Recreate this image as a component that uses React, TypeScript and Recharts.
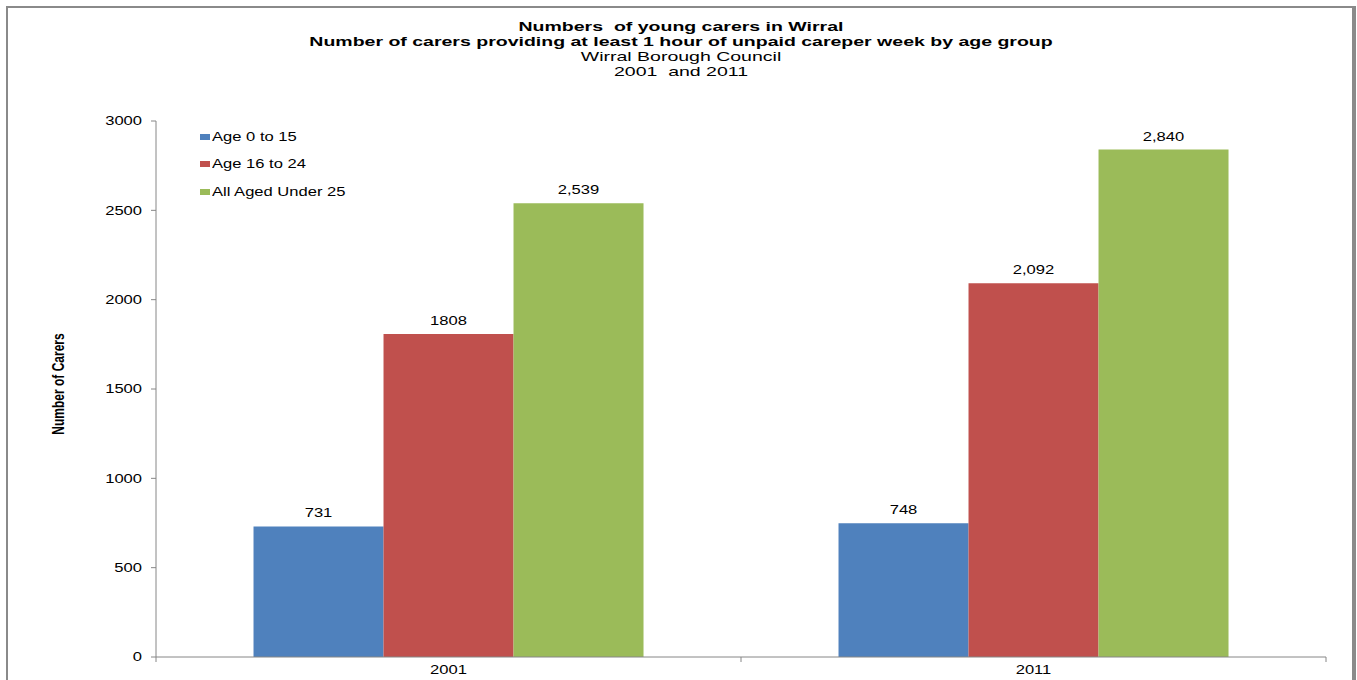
import { BarChart, Bar, XAxis, YAxis, Legend, LabelList } from 'recharts';

const years = ['2001', '2011'];
const age0to15 = [731, 748];
const age16to24 = [1808, 2092];
const allUnder25 = [2539, 2840];
// labels as printed on the original (mixed formatting)
const age0to15Labels = ['731', '748'];
const age16to24Labels = ['1808', '2,092'];
const allUnder25Labels = ['2,539', '2,840'];
const yTicks = [0, 500, 1000, 1500, 2000, 2500, 3000];
const categoryEdges = [0, 1, 2];

const titleLines = [
  'Numbers  of young carers in Wirral',
  'Number of carers providing at least 1 hour of unpaid careper week by age group',
];
const subtitleLines = ['Wirral Borough Council', '2001  and 2011'];

const FONT = '"Liberation Sans", Arial, sans-serif';
// the original picture is stretched sideways, so text is widened to match
const STRETCH = 1.38;

const data = years.map((year, i) => ({
  year,
  a: age0to15[i],
  b: age16to24[i],
  c: allUnder25[i],
  aLabel: age0to15Labels[i],
  bLabel: age16to24Labels[i],
  cLabel: allUnder25Labels[i],
  pos: i + 0.5,
}));

const YTick = ({ x, y, payload }: any) => (
  <g transform={`translate(${x},${y})`}>
    <text
      transform={`scale(${STRETCH},1)`}
      textAnchor="end"
      dy="0.36em"
      fontFamily={FONT}
      fontSize={12}
      fill="#000"
    >
      {payload.value}
    </text>
  </g>
);

const XTick = ({ x, y, payload }: any) => (
  <g transform={`translate(${x},${y})`}>
    <text
      transform={`scale(${STRETCH},1)`}
      textAnchor="middle"
      dy="0.55em"
      fontFamily={FONT}
      fontSize={12}
      fill="#000"
    >
      {payload.value}
    </text>
  </g>
);

// category boundary ticks: a short line under the axis, no label
const EdgeTick = ({ x, y }: any) => (
  <line x1={x} x2={x} y1={y - 1} y2={y + 4} stroke="#868686" />
);

const BarLabel = (props: any) => {
  const { x, y, width, value } = props;
  return (
    <g transform={`translate(${x + width / 2},${y - 9})`}>
      <text
        transform={`scale(${STRETCH},1)`}
        textAnchor="middle"
        fontFamily={FONT}
        fontSize={12}
        fill="#000"
      >
        {value}
      </text>
    </g>
  );
};

const renderLegend = (props: any) => {
  const { payload } = props;
  return (
    <div style={{ fontFamily: FONT, fontSize: 12, color: '#000' }}>
      {payload.map((entry: any) => (
        <div key={entry.value} style={{ display: 'flex', alignItems: 'center', height: 27.5 }}>
          <span
            style={{
              display: 'inline-block',
              width: 10,
              height: 6,
              background: entry.color,
              marginRight: 2,
            }}
          />
          <span
            style={{
              display: 'inline-block',
              transform: `scaleX(${STRETCH})`,
              transformOrigin: 'left center',
              whiteSpace: 'nowrap',
            }}
          >
            {entry.value}
          </span>
        </div>
      ))}
    </div>
  );
};

export default function App() {
  return (
    <div
      style={{
        position: 'absolute',
        left: 0,
        top: 0,
        width: 1357,
        height: 680,
        overflow: 'hidden',
        background: '#fff',
      }}
    >
      <div
        style={{
          position: 'absolute',
          left: 6,
          top: 6,
          width: 1344,
          height: 700,
          border: '2px solid #8a8a8a',
          borderRight: '4px solid #8a8a8a',
        }}
      />
      <div
        style={{
          position: 'absolute',
          left: 0,
          top: 19,
          width: 1362,
          textAlign: 'center',
          fontFamily: FONT,
          fontSize: 13,
          lineHeight: '15px',
          color: '#000',
        }}
      >
        {titleLines.map((t) => (
          <div key={t} style={{ fontWeight: 'bold', whiteSpace: 'pre', transform: 'scaleX(1.5)' }}>
            {t}
          </div>
        ))}
        {subtitleLines.map((t) => (
          <div key={t} style={{ whiteSpace: 'pre', transform: 'scaleX(1.5)' }}>
            {t}
          </div>
        ))}
      </div>
      <div
        style={{
          position: 'absolute',
          left: 58,
          top: 384,
          transform: 'translate(-50%, -50%) scaleX(1.4) rotate(-90deg)',
          fontFamily: '"Liberation Sans Narrow", "Arial Narrow", "Liberation Sans", sans-serif',
          fontStretch: 'condensed',
          fontWeight: 'bold',
          fontSize: 12,
          whiteSpace: 'nowrap',
          color: '#000',
        }}
      >
        Number of Carers
      </div>
      <BarChart
        width={1357}
        height={680}
        data={data}
        margin={{ top: 121, right: 31, left: 96, bottom: 21 }}
        barCategoryGap="16.67%"
        barGap={0}
        style={{ position: 'absolute', left: 0, top: 0 }}
      >
        <XAxis
          dataKey="year"
          xAxisId="cat"
          axisLine={{ stroke: '#868686' }}
          tickLine={false}
          tick={<XTick />}
          height={1}
          tickMargin={4}
        />
        <XAxis
          xAxisId="edges"
          type="number"
          dataKey="pos"
          domain={[0, 2]}
          ticks={categoryEdges}
          interval={0}
          axisLine={false}
          tick={<EdgeTick />}
          tickLine={false}
          tickSize={0}
          tickMargin={0}
          height={1}
        />
        <YAxis
          domain={[0, 3000]}
          ticks={yTicks}
          width={60}
          axisLine={{ stroke: '#868686' }}
          tickLine={{ stroke: '#868686' }}
          tickSize={5}
          tickMargin={9}
          tick={<YTick />}
          interval={0}
        />
        <Legend
          layout="vertical"
          verticalAlign="middle"
          align="center"
          content={renderLegend}
          wrapperStyle={{ left: 200, top: 123, width: 200, height: 85 }}
        />
        <Bar dataKey="a" name="Age 0 to 15" xAxisId="cat" fill="#4F81BD" isAnimationActive={false}>
          <LabelList dataKey="aLabel" content={<BarLabel />} />
        </Bar>
        <Bar dataKey="b" name="Age 16 to 24" xAxisId="cat" fill="#C0504D" isAnimationActive={false}>
          <LabelList dataKey="bLabel" content={<BarLabel />} />
        </Bar>
        <Bar dataKey="c" name="All Aged Under 25" xAxisId="cat" fill="#9BBB59" isAnimationActive={false}>
          <LabelList dataKey="cLabel" content={<BarLabel />} />
        </Bar>
      </BarChart>
    </div>
  );
}
